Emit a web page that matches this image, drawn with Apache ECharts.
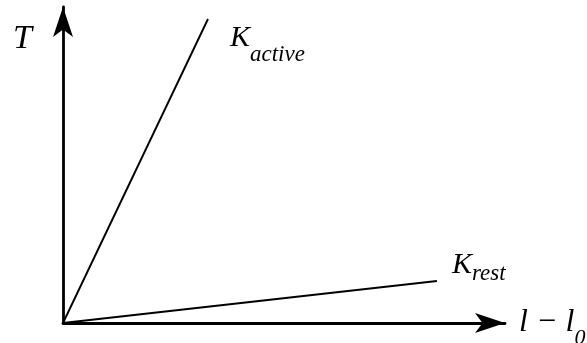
<!DOCTYPE html>
<html>
<head>
<meta charset="utf-8">
<style>
  html, body { margin: 0; padding: 0; background: #ffffff; }
  #chart { width: 587px; height: 343px; }
</style>
<script src="https://cdn.jsdelivr.net/npm/echarts@6/dist/echarts.min.js"></script>
</head>
<body>
<div id="chart"></div>
<script>
// Stiffness lines: tension T against extension l - l0 (arbitrary units)
const seriesNames = ['active', 'rest'];
const activeLine = [[0, 0], [3.28, 9.62]];
const restLine = [[0, 0], [8.46, 1.33]];
const xName = 'l − l';
const xSub = '0';
const yName = 'T';

const serif = '"Liberation Serif", "DejaVu Serif", serif';

const chart = echarts.init(document.getElementById('chart'), null, { renderer: 'canvas' });

function kLabel(shiftPad, offset) {
  return {
    show: true,
    distance: 0,
    offset: offset,
    align: 'left',
    formatter: function (p) { return '{k|K}{s|' + p.seriesName + '}'; },
    rich: {
      k: { fontFamily: serif, fontStyle: 'italic', fontSize: 30, color: '#000', lineHeight: 30 },
      s: { fontFamily: serif, fontStyle: 'italic', fontSize: 23, color: '#000', lineHeight: 23, padding: [shiftPad, 0, 0, 0] }
    }
  };
}

const axisCommon = {
  type: 'value',
  min: 0,
  max: 10,
  axisLine: {
    show: true,
    symbol: ['none', 'arrow'],
    symbolSize: [15, 30],
    lineStyle: { color: '#000', width: 2.8 }
  },
  axisTick: { show: false },
  axisLabel: { show: false },
  splitLine: { show: false }
};

chart.setOption({
  animation: false,
  backgroundColor: '#ffffff',
  grid: { left: 63, right: 82, top: 7, bottom: 20, containLabel: false, outerBoundsMode: 'none' },
  xAxis: Object.assign({}, axisCommon, {
    name: '{m|' + xName + '}{s|' + xSub + '}',
    nameLocation: 'end',
    nameGap: 14,
    nameTextStyle: {
      rich: {
        m: { fontFamily: serif, fontStyle: 'italic', fontSize: 32, color: '#000', lineHeight: 32 },
        s: { fontFamily: serif, fontStyle: 'italic', fontSize: 22, color: '#000', lineHeight: 22, padding: [30, 0, 0, 0] }
      }
    }
  }),
  yAxis: Object.assign({}, axisCommon, {
    name: yName,
    nameLocation: 'end',
    nameGap: -15,
    nameTextStyle: {
      fontFamily: serif, fontStyle: 'italic', fontSize: 34, color: '#000',
      align: 'right', verticalAlign: 'top', padding: [0, 31, 0, 0]
    }
  }),
  series: [
    {
      name: seriesNames[0],
      type: 'line',
      data: activeLine,
      clip: false,
      symbol: 'none',
      lineStyle: { color: '#000', width: 1.9 },
      endLabel: kLabel(34, [22, 19])
    },
    {
      name: seriesNames[1],
      type: 'line',
      data: restLine,
      clip: false,
      symbol: 'none',
      lineStyle: { color: '#000', width: 1.9 },
      endLabel: kLabel(17, [15, -16])
    }
  ]
});
</script>
</body>
</html>
